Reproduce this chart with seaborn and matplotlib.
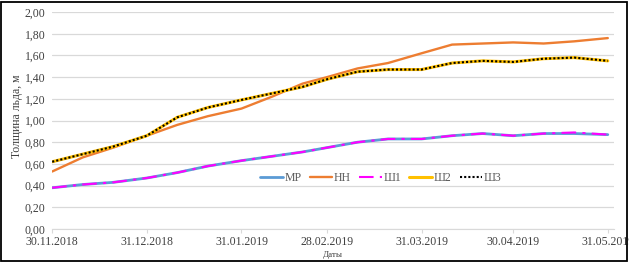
import pandas as pd
import numpy as np
import seaborn as sns
import matplotlib.pyplot as plt
import matplotlib.dates as mdates
from matplotlib.patches import Rectangle
from matplotlib.lines import Line2D

dates = ['2018-11-30', '2018-12-10', '2018-12-20', '2018-12-31',
         '2019-01-10', '2019-01-20', '2019-01-31',
         '2019-02-10', '2019-02-20', '2019-02-28',
         '2019-03-10', '2019-03-20', '2019-03-31',
         '2019-04-10', '2019-04-20', '2019-04-30',
         '2019-05-10', '2019-05-20', '2019-05-31']
mp = [0.38, 0.41, 0.43, 0.47, 0.52, 0.58, 0.63, 0.67, 0.71, 0.75,
      0.80, 0.83, 0.83, 0.86, 0.88, 0.86, 0.88, 0.88, 0.87]
nn = [0.53, 0.66, 0.75, 0.86, 0.96, 1.04, 1.11, 1.22, 1.34, 1.40,
      1.48, 1.53, 1.62, 1.70, 1.71, 1.72, 1.71, 1.73, 1.76]
sh1 = [0.38, 0.41, 0.43, 0.47, 0.52, 0.58, 0.63, 0.67, 0.71, 0.75,
       0.80, 0.83, 0.83, 0.86, 0.88, 0.86, 0.88, 0.89, 0.87]
sh2 = [0.62, 0.69, 0.76, 0.86, 1.03, 1.12, 1.19, 1.25, 1.31, 1.38,
       1.45, 1.47, 1.47, 1.53, 1.55, 1.54, 1.57, 1.58, 1.55]
sh3 = [0.62, 0.69, 0.76, 0.86, 1.03, 1.12, 1.19, 1.25, 1.31, 1.38,
       1.45, 1.47, 1.47, 1.53, 1.55, 1.54, 1.57, 1.58, 1.55]
tick_dates = ['2018-11-30', '2018-12-31', '2019-01-31', '2019-02-28',
              '2019-03-31', '2019-04-30', '2019-05-31']
yticks = [0.0, 0.2, 0.4, 0.6, 0.8, 1.0, 1.2, 1.4, 1.6, 1.8, 2.0]

df = pd.DataFrame({'date': pd.to_datetime(dates), 'МР': mp, 'НН': nn,
                   'Ш1': sh1, 'Ш2': sh2, 'Ш3': sh3})

sns.set_style('white')
plt.rcParams['font.family'] = ['Liberation Serif', 'DejaVu Serif']

fig, ax = plt.subplots(figsize=(6.29, 2.62), dpi=100)
fig.subplots_adjust(left=0.083, right=0.976, top=0.954, bottom=0.126)

sns.lineplot(x='date', y='МР', data=df, ax=ax, color='#5B9BD5', lw=2.0, label='МР')
sns.lineplot(x='date', y='НН', data=df, ax=ax, color='#ED7D31', lw=1.7, label='НН')
sns.lineplot(x='date', y='Ш2', data=df, ax=ax, color='#FFC000', lw=2.2, label='Ш2')
sns.lineplot(x='date', y='Ш1', data=df, ax=ax, color='#FF00FF', lw=1.5,
             dashes=[(7, 3, 1.5, 3)], style=np.zeros(len(df)), legend=False)
sns.lineplot(x='date', y='Ш3', data=df, ax=ax, color='black', lw=1.5,
             linestyle=(0, (1, 1)), label='Ш3')

# legend in Excel order
h, l = ax.get_legend_handles_labels()
sh1_h = Line2D([], [], color='#FF00FF', lw=1.5, dashes=(7, 3, 1.5, 3))
hd = dict(zip(l, h))
order = [hd['МР'], hd['НН'], sh1_h, hd['Ш2'], hd['Ш3']]
ax.legend(order, ['МР', 'НН', 'Ш1', 'Ш2', 'Ш3'], loc='center', ncol=5,
          bbox_to_anchor=(0.585, 0.235), frameon=False, fontsize=8.5,
          handlelength=1.9, handletextpad=0.15, columnspacing=0.7,
          labelcolor='#595959')

ax.set_ylim(0, 2.0)
ax.set_yticks(yticks)
ax.set_yticklabels([f'{v:.2f}'.replace('.', ',') for v in yticks])
ax.set_xlim(pd.Timestamp('2018-11-30'), pd.Timestamp('2019-06-02'))
ax.set_xticks(pd.to_datetime(tick_dates))
ax.xaxis.set_major_formatter(mdates.DateFormatter('%d.%m.%Y'))

ax.grid(axis='y', color='#D9D9D9', lw=0.9)
for s in ['top', 'right', 'left']:
    ax.spines[s].set_visible(False)
ax.spines['bottom'].set_color('#D9D9D9')
ax.tick_params(axis='x', length=3, color='#D9D9D9', labelsize=8.5,
               labelcolor='#404040', pad=2, bottom=True)
ax.tick_params(axis='y', length=0, labelsize=8.5, labelcolor='#404040', pad=5)

ax.set_xlabel('Даты', fontsize=6.5, color='#404040', labelpad=2)
ax.set_ylabel('Толщина льда, м', fontsize=8.5, color='#404040')
ax.yaxis.set_label_coords(-0.052, 0.52)

fig.add_artist(Rectangle((0.002, 0.004), 0.995, 0.99, transform=fig.transFigure,
                         fill=False, edgecolor='black', lw=1.3))

fig.savefig('out.png', dpi=100)
